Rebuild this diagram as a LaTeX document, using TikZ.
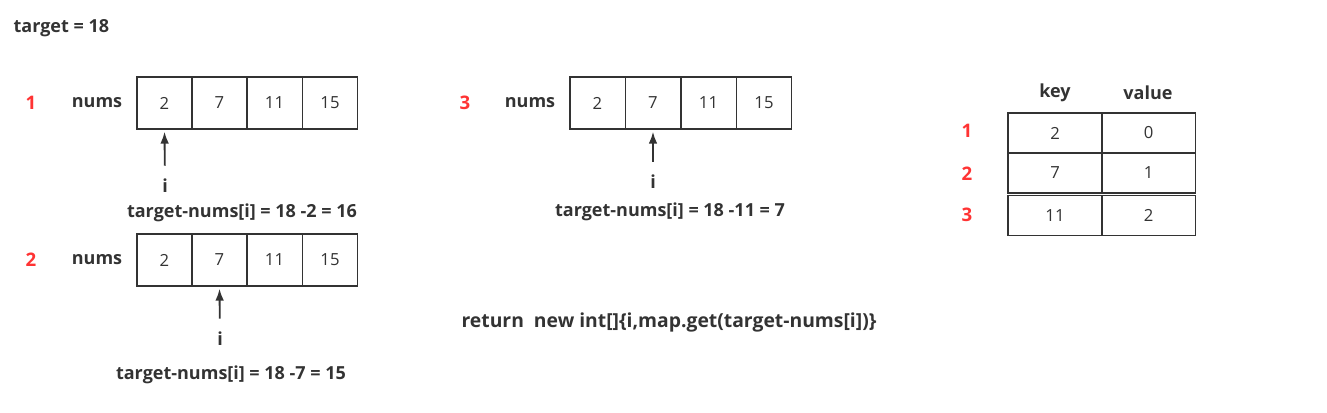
\documentclass[tikz,border=0pt]{standalone}
\usepackage{fontspec}
\setmainfont{Open Sans}
\usetikzlibrary{arrows,arrows.meta,positioning}
\definecolor{ink}{HTML}{333333}
\definecolor{mark}{HTML}{FF3333}

\begin{document}
\begin{tikzpicture}
[x=0.75pt,y=-0.75pt,
 cell/.style={draw=ink,line width=1pt,minimum width=41.5pt,minimum height=39pt,inner sep=0pt,text=ink,font=\fontsize{12.5}{14}\selectfont},
 row/.style={cell,minimum width=70.5pt,minimum height=30pt},
 lbl/.style={text=ink,font=\fontsize{13.5}{15}\selectfont\bfseries,inner sep=1pt},
 step no/.style={text=mark,font=\fontsize{14}{16}\selectfont\bfseries},
 ptr/.style={-{Latex[length=9pt,width=6.5pt]},draw=ink,line width=1.4pt,shorten <=9pt,shorten >=1.5pt}]
\useasboundingbox (0,0) rectangle (1327,412);

\node[lbl,anchor=west] (t) at (12,28) {target = 18};

% step 1
\node[step no] (s1) at (31,103) {1};
\node[lbl] (n1) at (97,103) {nums};
\node[cell] (a1) at (164.5,103) {2};
\node[cell] (a2) at (219.5,103) {7};
\node[cell] (a3) at (274.5,103) {11};
\node[cell] (a4) at (330,103) {15};
\node[lbl] (i1) at (165,186) {i};
\node[lbl] (d1) at (242,213) {target-nums[i] = 18 -2 = 16};
\draw [ptr] (i1) -- (a1.south);

% step 2
\node[step no] (s2) at (31,260) {2};
\node[lbl] (n2) at (97,260) {nums};
\node[cell] (b1) at (164.5,260) {2};
\node[cell] (b2) at (219.5,260) {7};
\node[cell] (b3) at (274.5,260) {11};
\node[cell] (b4) at (330,260) {15};
\node[lbl] (i2) at (220,339) {i};
\node[lbl] (d2) at (231,375) {target-nums[i] = 18 -7 = 15};
\draw [ptr] (i2) -- (b2.south);

% step 3
\node[step no] (s3) at (465,103) {3};
\node[lbl] (n3) at (530,103) {nums};
\node[cell] (c1) at (597.5,103) {2};
\node[cell] (c2) at (653,103) {7};
\node[cell] (c3) at (708.5,103) {11};
\node[cell] (c4) at (764,103) {15};
\node[lbl] (i3) at (653,182) {i};
\node[lbl] (d3) at (670,212) {target-nums[i] = 18 -11 = 7};
\draw [ptr] (i3) -- (c2.south);

\node[lbl,font=\fontsize{14.5}{16}\selectfont\bfseries] (ret) at (669,322) {return\ \ new int[]\{i,map.get(target-nums[i])\}};

% map
\node[lbl] (hk) at (1055,93) {key};
\node[lbl] (hv) at (1148,93) {value};
\node[step no] (m1) at (967,131) {1};
\node[step no] (m2) at (967,174) {2};
\node[step no] (m3) at (967,215) {3};
\node[row] (k1) at (1055,133) {2};
\node[row] (v1) at (1148.5,133) {0};
\node[row] (k2) at (1055,173) {7};
\node[row] (v2) at (1148.5,173) {1};
\node[row] (k3) at (1055,215.5) {11};
\node[row] (v3) at (1148.5,215.5) {2};
\end{tikzpicture}
\end{document}
